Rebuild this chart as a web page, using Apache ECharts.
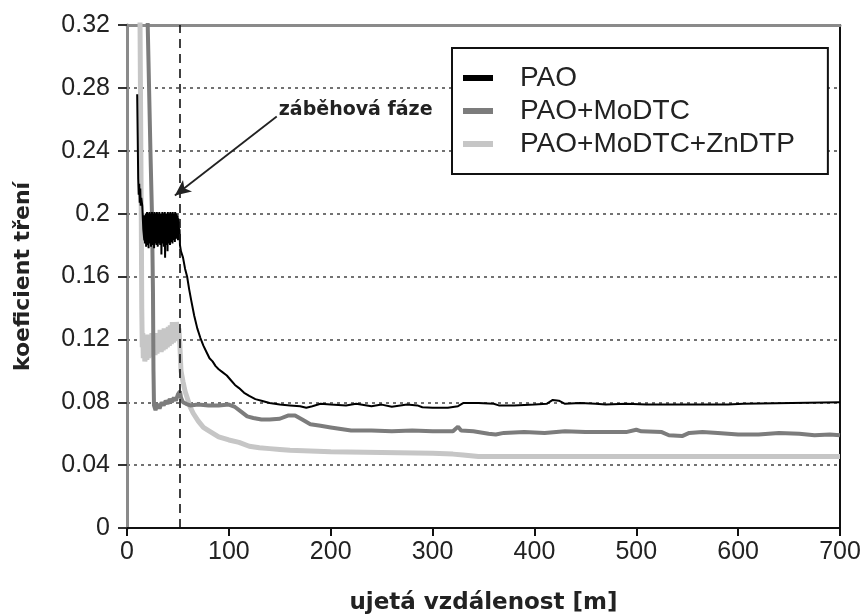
<!DOCTYPE html>
<html>
<head>
<meta charset="utf-8">
<script src="https://cdn.jsdelivr.net/npm/echarts@6/dist/echarts.min.js"></script>
<style>html,body{margin:0;padding:0;background:#fff}#c{width:867px;height:615px}</style>
</head>
<body>
<div id="c"></div>
<script>
const seriesNames = ['PAO', 'PAO+MoDTC', 'PAO+MoDTC+ZnDTP'];
const xTicks = [0, 100, 200, 300, 400, 500, 600, 700];
const yTicks = [0, 0.04, 0.08, 0.12, 0.16, 0.2, 0.24, 0.28, 0.32];
const runInEnd = 52;
const annotationText = 'záběhová fáze';
const arrowFrom = [147, 0.2618];
const arrowTo = [47, 0.2115];
const labelAt = [149, 0.2656];

const paoData = [
[10,0.276],[10.5,0.25],[11,0.222],[11.5,0.212],[12,0.219],[12.5,0.207],[13,0.216],[13.5,0.205],[14,0.21],[15,0.205],[16,0.19],[17,0.183],
[17.3,0.199],[17.6,0.181],[17.9,0.197],[18.2,0.183],[18.5,0.2],[18.8,0.179],[19.1,0.198],[19.4,0.185],[19.7,0.201],[20.0,0.18],
[20.3,0.196],[20.6,0.182],[20.9,0.2],[21.2,0.178],[21.5,0.199],[21.8,0.184],[22.1,0.201],[22.4,0.181],[22.7,0.197],[23.0,0.186],
[23.3,0.2],[23.6,0.179],[23.9,0.198],[24.2,0.183],[24.5,0.201],[24.8,0.18],[25.1,0.196],[25.4,0.185],[25.7,0.2],[26.0,0.182],
[26.3,0.199],[26.6,0.178],[26.9,0.201],[27.2,0.184],[27.5,0.197],[27.8,0.181],[28.1,0.2],[28.4,0.186],[28.7,0.198],[29.0,0.18],
[29.3,0.201],[29.6,0.183],[29.9,0.196],[30.2,0.179],[30.5,0.2],[30.8,0.185],[31.1,0.199],[31.4,0.181],[31.7,0.201],[32.0,0.184],
[32.3,0.197],[32.6,0.18],[32.9,0.2],[33.2,0.186],[33.5,0.198],[33.8,0.174],[34.1,0.199],[34.4,0.183],[34.7,0.201],[35.0,0.181],
[35.3,0.197],[35.6,0.185],[35.9,0.2],[36.2,0.179],[36.5,0.198],[36.8,0.184],[37.1,0.201],[37.4,0.172],[37.7,0.199],[38.0,0.182],
[38.3,0.196],[38.6,0.186],[38.9,0.2],[39.2,0.18],[39.5,0.198],[39.8,0.176],[40.1,0.201],[40.4,0.184],[40.7,0.197],[41.0,0.181],
[41.3,0.2],[41.6,0.185],[41.9,0.199],[42.2,0.18],[42.5,0.201],[42.8,0.186],[43.1,0.197],[43.4,0.182],[43.7,0.2],[44.0,0.184],
[44.3,0.198],[44.6,0.181],[44.9,0.201],[45.2,0.185],[45.5,0.196],[45.8,0.183],[46.1,0.2],[46.4,0.186],[46.7,0.199],[47.0,0.182],
[47.3,0.201],[47.6,0.185],[47.9,0.197],[48.2,0.187],[48.5,0.2],[48.8,0.184],[49.1,0.198],[49.4,0.186],[49.7,0.199],[50.0,0.183],
[50.3,0.197],[50.6,0.186],[50.9,0.195],[51.2,0.184],[51.6,0.19],[52,0.18],
[53,0.176],[55,0.172],[57,0.165],[59,0.16],[61,0.152],[63,0.145],[66,0.135],[69,0.127],[72,0.121],[75,0.116],[78,0.112],
[81,0.108],[84,0.106],[87,0.103],[90,0.101],[94,0.099],[98,0.097],[102,0.094],[106,0.091],[110,0.089],[115,0.086],[120,0.084],
[126,0.082],[132,0.081],[140,0.0795],[150,0.0785],[160,0.078],[170,0.0775],[176,0.0765],[182,0.0775],[190,0.079],[200,0.0785],
[215,0.078],[225,0.079],[240,0.0775],[250,0.0785],[260,0.0772],[275,0.0785],[285,0.078],[290,0.0768],[300,0.0765],[315,0.0765],
[325,0.0775],[330,0.0795],[345,0.0795],[360,0.079],[365,0.078],[380,0.078],[400,0.0785],[412,0.079],[418,0.0815],[424,0.081],
[430,0.079],[445,0.0795],[460,0.079],[470,0.0785],[490,0.079],[510,0.0785],[530,0.0785],[560,0.0785],[590,0.0785],[605,0.079],
[606,0.08],[700,0.08]
];

const modtcData = [
[19,0.36],[21,0.3],[23,0.24],[24.5,0.2],[25.5,0.15],[26,0.1],[26.5,0.078],[28,0.075],
[30,0.079],[32,0.076],[34,0.08],[36,0.078],[38,0.081],[40,0.079],[42,0.082],[44,0.08],[46,0.083],[48,0.081],[50,0.085],[52,0.087],
[53,0.083],[55,0.08],[58,0.079],[62,0.078],[70,0.0785],[80,0.078],[90,0.078],[100,0.0785],[106,0.077],[112,0.074],[118,0.071],
[124,0.07],[132,0.069],[140,0.069],[150,0.0695],[158,0.0715],[165,0.0715],[172,0.069],[180,0.066],[190,0.065],[200,0.064],
[210,0.063],[220,0.062],[240,0.062],[260,0.0615],[280,0.062],[300,0.0615],[320,0.0615],[325,0.0645],[328,0.062],[340,0.0615],
[355,0.06],[362,0.0595],[370,0.0605],[390,0.061],[410,0.0605],[430,0.0615],[450,0.061],[470,0.061],[490,0.061],[500,0.0625],
[505,0.0615],[525,0.061],[532,0.059],[545,0.0585],[552,0.0605],[565,0.061],[580,0.0605],[600,0.0595],[620,0.0595],[640,0.0605],
[660,0.06],[675,0.059],[690,0.0595],[700,0.059]
];

const zndtpData = [
[12,0.4],[13,0.3],[14,0.2],[14.5,0.14],[15,0.115],
[15.5,0.124],[16,0.108],[16.5,0.119],[17,0.122],[17.5,0.106],[18,0.108],[18.5,0.121],[19,0.118],[19.5,0.107],[20,0.112],
[20.5,0.123],[21,0.121],[21.5,0.108],[22,0.109],[22.5,0.12],[23,0.117],[23.5,0.109],[24,0.113],[24.5,0.124],[25,0.12],
[25.5,0.11],[26,0.111],[26.5,0.122],[27,0.118],[27.5,0.11],[28,0.114],[28.5,0.124],[29,0.121],[29.5,0.111],[30,0.112],
[30.5,0.123],[31,0.119],[31.5,0.112],[32,0.116],[32.5,0.126],[33,0.123],[33.5,0.112],[34,0.114],[34.5,0.125],[35,0.121],
[35.5,0.113],[36,0.117],[36.5,0.127],[37,0.124],[37.5,0.114],[38,0.116],[38.5,0.126],[39,0.122],[39.5,0.115],[40,0.118],
[40.5,0.128],[41,0.126],[41.5,0.116],[42,0.119],[42.5,0.129],[43,0.127],[43.5,0.117],[44,0.12],[44.5,0.131],[45,0.13],
[45.5,0.118],[46,0.121],[46.5,0.13],[47,0.128],[47.5,0.119],[48,0.122],[48.5,0.131],[49,0.129],[49.5,0.12],[50,0.124],
[51,0.127],[52,0.115],[53,0.1],[55,0.093],[57,0.087],[59,0.083],[62,0.077],[65,0.073],[70,0.068],
[75,0.064],[80,0.062],[90,0.058],[100,0.056],[110,0.0545],[120,0.052],[130,0.051],[140,0.0505],[150,0.05],[160,0.0495],
[180,0.049],[200,0.0485],[250,0.048],[300,0.0475],[320,0.047],[330,0.0465],[345,0.0455],[400,0.0455],[500,0.0455],
[600,0.0455],[700,0.0455]
];

const chart = echarts.init(document.getElementById('c'), null, {renderer: 'canvas'});
const tickFont = {fontFamily: 'Liberation Sans', fontSize: 25, color: '#222'};
const dotted = {type: [3, 4], color: '#444', width: 1.5};

chart.setOption({
  animation: false,
  backgroundColor: '#fff',
  grid: {left: 127, right: 27, top: 25, bottom: 87, containLabel: false, outerBoundsMode: 'none'},
  legend: {
    data: seriesNames,
    orient: 'vertical',
    left: 452, top: 48,
    padding: [16, 33, 16, 11],
    itemGap: 5,
    itemWidth: 30, itemHeight: 6,
    icon: 'rect',
    borderColor: '#111', borderWidth: 2,
    backgroundColor: '#fff',
    textStyle: {fontFamily: 'Liberation Sans', fontSize: 28, color: '#222', padding: [0, 0, 0, 22]}
  },
  xAxis: [{
    type: 'value', min: 0, max: 700, interval: 100,
    name: 'ujetá vzdálenost [m]', nameLocation: 'middle', nameGap: 64,
    nameTextStyle: {fontFamily: 'DejaVu Sans', fontWeight: 'bold', fontSize: 23, color: '#222'},
    axisLine: {show: true, onZero: false, lineStyle: {color: '#111', width: 2}},
    axisTick: {show: true, inside: false, length: 8, lineStyle: {color: '#111', width: 2}},
    axisLabel: Object.assign({margin: 12, formatter: v => xTicks.includes(v) ? String(v) : ''}, tickFont),
    splitLine: {show: false}
  }, {
    type: 'value', min: 0, max: 700, position: 'top',
    axisLine: {show: true, onZero: false, lineStyle: {color: '#8a8a8a', width: 3}},
    axisTick: {show: false}, axisLabel: {show: false}, splitLine: {show: false}
  }],
  yAxis: [{
    type: 'value', min: 0, max: 0.32, interval: 0.04,
    name: 'koeficient tření', nameLocation: 'middle', nameGap: 93, nameRotate: 90,
    nameTextStyle: {fontFamily: 'DejaVu Sans', fontWeight: 'bold', fontSize: 22, color: '#222'},
    axisLine: {show: true, onZero: false, lineStyle: {color: '#8a8a8a', width: 3}},
    axisTick: {show: true, inside: false, length: 9, lineStyle: {color: '#333', width: 2}},
    axisLabel: Object.assign({margin: 17, formatter: v => {
      const t = yTicks.find(y => Math.abs(y - v) < 1e-9);
      return t === undefined ? '' : String(t);
    }}, tickFont),
    splitLine: {show: true, lineStyle: dotted}
  }, {
    type: 'value', min: 0, max: 0.32, interval: 0.04, position: 'right',
    axisLine: {show: true, onZero: false, lineStyle: {color: '#111', width: 2}},
    axisTick: {show: false}, axisLabel: {show: false}, splitLine: {show: false}
  }],
  series: [
    {
      name: seriesNames[2], type: 'line', data: zndtpData, showSymbol: false, symbol: 'none', z: 2,
      itemStyle: {color: '#c6c6c6'}, lineStyle: {color: '#c6c6c6', width: 5}
    },
    {
      name: seriesNames[1], type: 'line', data: modtcData, showSymbol: false, symbol: 'none', z: 3,
      itemStyle: {color: '#7c7c7c'}, lineStyle: {color: '#7c7c7c', width: 4}
    },
    {
      name: seriesNames[0], type: 'line', data: paoData, showSymbol: false, symbol: 'none', z: 4,
      itemStyle: {color: '#000'}, lineStyle: {color: '#000', width: 2},
      markLine: {
        silent: true, animation: false,
        data: [
          [{coord: [runInEnd, 0], symbol: 'none', lineStyle: {type: [9, 6], color: '#111', width: 1.6}},
           {coord: [runInEnd, 0.32], symbol: 'none'}],
          [{coord: arrowFrom, symbol: 'none', lineStyle: {type: 'solid', color: '#222', width: 1.8}},
           {coord: arrowTo, symbol: 'arrow', symbolSize: [11, 16]}]
        ],
        label: {show: false}
      },
      markPoint: {
        silent: true, animation: false,
        data: [{coord: labelAt, symbol: 'circle', symbolSize: 0,
          label: {show: true, position: 'right', distance: 0, formatter: annotationText,
            fontFamily: 'DejaVu Sans', fontWeight: 'bold', fontSize: 19, color: '#222'}}]
      }
    }
  ]
});
</script>
</body>
</html>
